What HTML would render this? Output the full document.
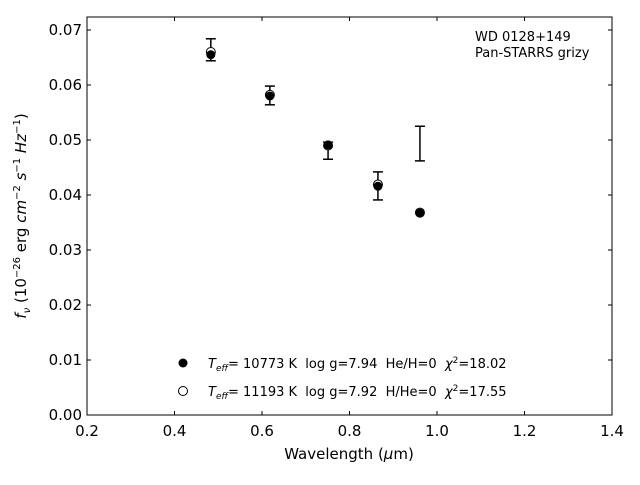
<!DOCTYPE html>
<html><head><meta charset="utf-8"><style>
body{margin:0;background:#fff;font-family:"Liberation Sans","DejaVu Sans",sans-serif}
svg text{font-family:"DejaVu Sans","Liberation Sans",sans-serif;white-space:pre}
</style></head><body>
<svg id="chart" width="640" height="480" viewBox="0 0 640 480" xmlns="http://www.w3.org/2000/svg">
<rect x="0" y="0" width="640" height="480" fill="#fff"/>
<g id="ticks"></g>
<g id="marks"></g>
<rect x="87" y="17" width="525" height="398" fill="none" stroke="#000" stroke-width="1"/>
<text x="475" y="41" font-size="13">WD 0128+149</text>
<text x="475" y="57" font-size="13">Pan-STARRS grizy</text>
<text x="349" y="459" font-size="15" text-anchor="middle">Wavelength (<tspan font-style="italic">μ</tspan>m)</text>
<text transform="translate(26,216) rotate(-90)" font-size="15" text-anchor="middle"><tspan font-style="italic">f</tspan><tspan font-style="italic" font-size="10" dy="4">ν</tspan><tspan dy="-4"> (10</tspan><tspan font-size="10" dy="-6">−26</tspan><tspan dy="6"> erg </tspan><tspan font-style="italic">cm</tspan><tspan font-size="10" dy="-6">−2</tspan><tspan dy="6"> </tspan><tspan font-style="italic">s</tspan><tspan font-size="10" dy="-6">−1</tspan><tspan dy="6"> </tspan><tspan font-style="italic">Hz</tspan><tspan font-size="10" dy="-6">−1</tspan><tspan dy="6">)</tspan></text>
<g>
<circle cx="183" cy="363" r="4.5" fill="#000"/>
<text x="208" y="368" font-size="13"><tspan font-style="italic">T</tspan><tspan font-style="italic" font-size="9" dy="3">eff</tspan><tspan dy="-3">= 10773 K&#160;&#160;log g=7.94&#160;&#160;He/H=0&#160;&#160;</tspan><tspan font-style="italic">χ</tspan><tspan font-size="9" dy="-5">2</tspan><tspan dy="5">=18.02</tspan></text>
<circle cx="183" cy="391" r="4.5" fill="#fff" stroke="#000"/>
<text x="208" y="396" font-size="13"><tspan font-style="italic">T</tspan><tspan font-style="italic" font-size="9" dy="3">eff</tspan><tspan dy="-3">= 11193 K&#160;&#160;log g=7.92&#160;&#160;H/He=0&#160;&#160;</tspan><tspan font-style="italic">χ</tspan><tspan font-size="9" dy="-5">2</tspan><tspan dy="5">=17.55</tspan></text>
</g>
</svg>
<script>
const wavelengths=[0.483,0.618,0.751,0.865,0.961];
const fluxHigh=[0.0684,0.0598,0.0496,0.0442,0.0525];
const fluxLow=[0.0644,0.0564,0.0465,0.0391,0.0462];
const modelH=[0.0655,0.0580,0.0491,0.0416,0.0367];
const modelHe=[0.0660,0.0582,0.0490,0.0419,0.0368];
const xTicks=[0.2,0.4,0.6,0.8,1.0,1.2,1.4];
const yTicks=[0.00,0.01,0.02,0.03,0.04,0.05,0.06,0.07];
const NS="http://www.w3.org/2000/svg";
const X0=87,X1=612,Y0=415,Y1=17,xmin=0.2,xmax=1.4,ymin=0,ymax=0.07236;
const sx=v=>X0+(v-xmin)/(xmax-xmin)*(X1-X0);
const sy=v=>Y0-(v-ymin)/(ymax-ymin)*(Y0-Y1);
function mk(tag,attrs,parent){const e=document.createElementNS(NS,tag);for(const k in attrs)e.setAttribute(k,attrs[k]);parent.appendChild(e);return e;}
const tg=document.getElementById('ticks'),mg=document.getElementById('marks');
xTicks.forEach(t=>{const x=sx(t);
 let l=mk('line',{x1:x,x2:x,y1:Y0,y2:Y0-4,stroke:'#000'},tg);
 
 
 let l2=mk('line',{x1:x,x2:x,y1:Y1,y2:Y1+4,stroke:'#000'},tg);
 
 
 let tx=mk('text',{x:x,y:Y0+21,'font-size':15,'text-anchor':'middle'},tg);tx.textContent=t.toFixed(1);
 
 });
yTicks.forEach(t=>{const y=sy(t);
 let l=mk('line',{x1:X0,x2:X0+4,y1:y,y2:y,stroke:'#000'},tg);
 
 
 let l2=mk('line',{x1:X1,x2:X1-4,y1:y,y2:y,stroke:'#000'},tg);
 
 
 let tx=mk('text',{x:X0-5,y:y+5,'font-size':15,'text-anchor':'end'},tg);tx.textContent=t.toFixed(2);
 
 });
wavelengths.forEach((w,i)=>{const x=sx(w),a=sy(fluxHigh[i]),b=sy(fluxLow[i]);
 const g=mk('g',{stroke:'#000','stroke-width':1.5},mg);
 
 
 mk('line',{x1:x,x2:x,y1:a,y2:b},g);mk('line',{x1:x-5,x2:x+5,y1:a,y2:a},g);mk('line',{x1:x-5,x2:x+5,y1:b,y2:b},g);
 let c1=mk('circle',{cx:x,cy:sy(modelHe[i]),r:4.5,fill:'#fff',stroke:'#000'},mg);
 
 
 let c2=mk('circle',{cx:x,cy:sy(modelH[i]),r:4.5,fill:'#000'},mg);
 
 });
</script>
</body></html>
